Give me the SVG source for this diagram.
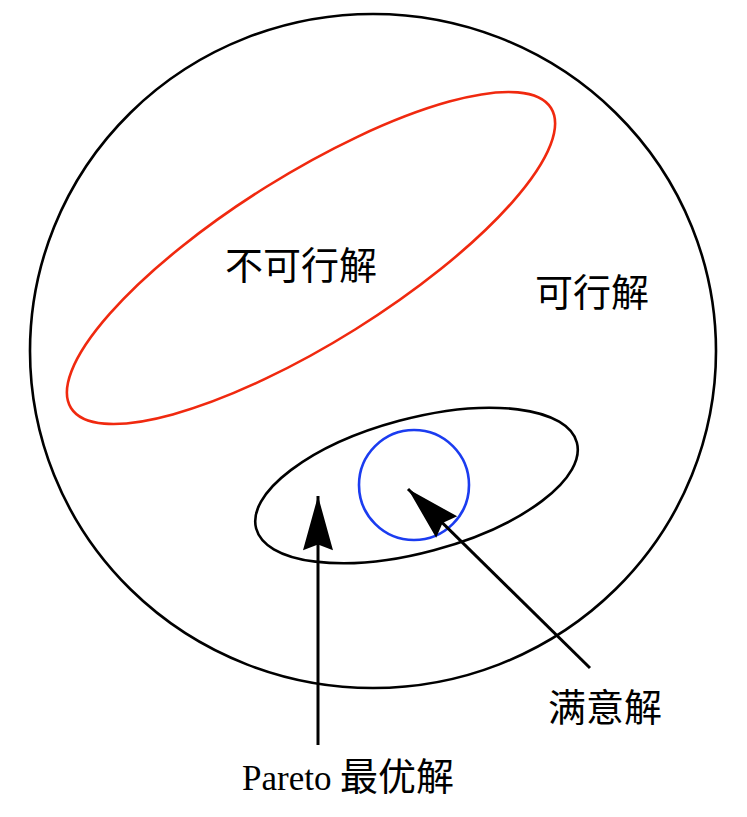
<svg xmlns="http://www.w3.org/2000/svg" width="747" height="817" viewBox="0 0 747 817">
<style>
.cjk{font-family:"Noto Sans CJK SC","Noto Sans CJK JP",sans-serif;font-size:38px;fill:#000}
.lat{font-family:"Liberation Serif",serif;font-size:35px;fill:#000}
.ln{fill:none;stroke-width:2.6}
.ar{stroke:#000;stroke-width:3;fill:none}
</style>
<defs>
<marker id="ah" markerUnits="userSpaceOnUse" markerWidth="60" markerHeight="40" viewBox="-48 -14 52 28" refX="0" refY="0" orient="auto">
<path d="M0,0 L-47,-13 L-42,0 L-47,13 Z" fill="#000"/>
</marker>
</defs>
<rect width="747" height="817" fill="#fff"/>
<g id="feasible">
<ellipse class="ln" cx="373" cy="351" rx="343" ry="337" stroke="#000"/>
<text class="cjk" x="535" y="306">可行解</text>
</g>
<g id="infeasible">
<ellipse class="ln" cx="311" cy="258" rx="283" ry="84" stroke="#f0290f" transform="rotate(-32 311 258)"/>
<text class="cjk" x="225" y="279">不可行解</text>
</g>
<g id="pareto">
<ellipse class="ln" cx="416.5" cy="485.5" rx="166" ry="67" stroke="#000" transform="rotate(-15 416.5 485.5)"/>
</g>
<g id="satisfied">
<circle class="ln" cx="414" cy="485" r="55" stroke="#1b3cf0"/>
</g>
<g id="connectors">
<line class="ar" x1="318" y1="745" x2="318" y2="496" marker-end="url(#ah)"/>
<line class="ar" x1="590" y1="668" x2="408" y2="489" marker-end="url(#ah)"/>
</g>
<g id="labels">
<text x="242" y="790"><tspan class="lat">Pareto </tspan><tspan class="cjk" x="340">最优解</tspan></text>
<text class="cjk" x="548" y="721">满意解</text>
</g>
</svg>
